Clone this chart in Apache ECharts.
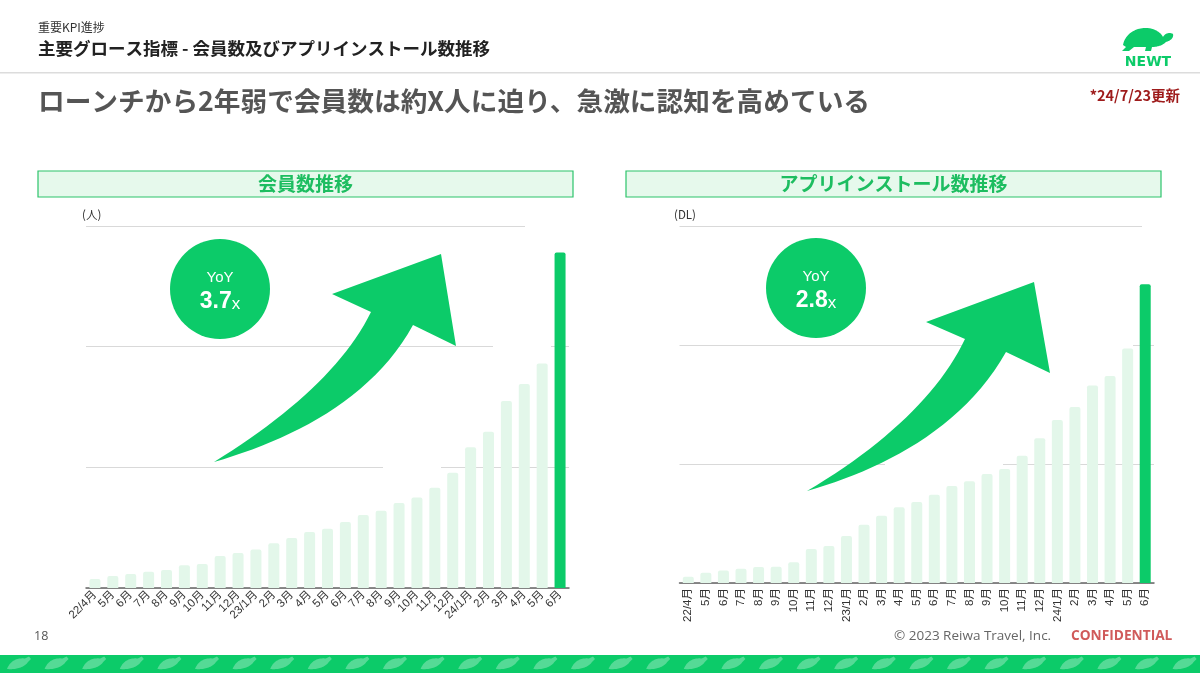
<!DOCTYPE html>
<html>
<head>
<meta charset="utf-8">
<script src="https://cdn.jsdelivr.net/npm/echarts@6/dist/echarts.min.js"></script>
<style>
html,body{margin:0;padding:0;background:#fff;}
#main{width:1200px;height:673px;}
</style>
</head>
<body>
<div id="main"></div>
<script>
const categories = ['22/4月','5月','6月','7月','8月','9月','10月','11月','12月','23/1月','2月','3月','4月','5月','6月','7月','8月','9月','10月','11月','12月','24/1月','2月','3月','4月','5月','6月'];
// relative values (one gridline step = 100)
const memberValues = [7.5,10,11.6,13.5,14.9,18.8,19.9,26.5,29,32,37,41.4,46.4,49,54.7,60.5,64,70.4,75,83,95.5,116.6,129.5,155,169,186,278];
const installValues = [5.3,8.7,10.4,12,13.4,13.7,17.4,28.6,31.1,39.5,49,56.6,63.6,68,74.2,81.5,85.5,91.6,95.8,107,121.6,137,148,166,174,197,251];
const leftTitle = '会員数推移';
const rightTitle = 'アプリインストール数推移';
const leftUnit = '(人)';
const rightUnit = '(DL)';
const leftYoY = '3.7';
const rightYoY = '2.8';

const GREEN = '#0CCB69';
const LIGHT = '#E3F7EA';
const FONT = '"Noto Sans CJK JP","Noto Sans",sans-serif';
const LABEL_FONT = '"Liberation Sans","Noto Sans CJK JP",sans-serif';

const chart = echarts.init(document.getElementById('main'), null, {renderer:'canvas'});

function barColor(p){ return p.dataIndex === categories.length - 1 ? GREEN : LIGHT; }

// convert simple absolute path (M/L/C/Z) to polygon points
function pathToPoints(d){
  const tok = d.replace(/([MLCZ])/g,' $1 ').replace(/,/g,' ').trim().split(/\s+/);
  const pts = []; let i = 0, cur = [0,0], cmd = '';
  while (i < tok.length) {
    const t = tok[i];
    if (/[MLCZ]/.test(t)) { cmd = t; i++; if (cmd === 'Z') continue; }
    if (cmd === 'M' || cmd === 'L') {
      cur = [+tok[i], +tok[i+1]]; pts.push(cur.slice()); i += 2;
    } else if (cmd === 'C') {
      const p1=[+tok[i],+tok[i+1]], p2=[+tok[i+2],+tok[i+3]], p3=[+tok[i+4],+tok[i+5]];
      for (let k = 1; k <= 24; k++) {
        const s = k/24, u = 1-s;
        pts.push([u*u*u*cur[0]+3*u*u*s*p1[0]+3*u*s*s*p2[0]+s*s*s*p3[0],
                  u*u*u*cur[1]+3*u*u*s*p1[1]+3*u*s*s*p2[1]+s*s*s*p3[1]]);
      }
      cur = p3; i += 6;
    } else { i++; }
  }
  return pts;
}
function poly(d, fill, z){ return {type:'polygon', z:z, shape:{points:pathToPoints(d)}, style:{fill:fill}}; }

const graphics = [];
// header
graphics.push({type:'text', left:38, top:21, z:20, style:{text:'重要KPI進捗', font:'12px '+FONT, fill:'#333'}});
graphics.push({type:'text', left:38, top:40, z:20, style:{text:'主要グロース指標 - 会員数及びアプリインストール数推移', font:'bold 17.5px '+FONT, fill:'#222'}});
graphics.push({type:'rect', shape:{x:0,y:72,width:1200,height:1.5}, z:20, style:{fill:'#dcdcdc'}});
graphics.push({type:'text', left:38, top:88, z:20, style:{text:'ローンチから2年弱で会員数は約X人に迫り、急激に認知を高めている', font:'bold 26.7px '+FONT, fill:'#555'}});
graphics.push({type:'text', right:20, top:88, z:20, style:{text:'*24/7/23更新', font:'bold 14.5px '+FONT, fill:'#9E1B1B'}});
// NEWT logo
graphics.push(poly('M1123,45 C1125,34 1136,27 1148,28 C1156,29 1161,33 1163,37 C1165,33 1170,32 1173,34 C1174,38 1170,41 1166,42 C1163,45 1158,47 1152,47 L1151,51 L1145,51 L1146,47 L1134,47 L1129,51 L1122,51 L1126,47 Z', GREEN, 20));
graphics.push({type:'text', z:20, x:1148, y:55, style:{text:'NEWT', font:'bold 14px "DejaVu Sans",sans-serif', fill:GREEN, textAlign:'center', textVerticalAlign:'top'}});

// title boxes
[[38, leftTitle],[626, rightTitle]].forEach(function(b){
  graphics.push({type:'rect', z:20, shape:{x:b[0],y:171,width:535,height:26}, style:{fill:'#E6F9EC', stroke:'#2CC36B', lineWidth:1.2}});
  graphics.push({type:'text', z:21, x:b[0]+267.5, y:184, style:{text:b[1], font:'bold 19px '+FONT, fill:'#1DBD60', textAlign:'center', textVerticalAlign:'middle'}});
});
// unit labels
graphics.push({type:'text', z:20, left:82, top:209, style:{text:leftUnit, font:'11.5px '+FONT, fill:'#333'}});
graphics.push({type:'text', z:20, left:674, top:209, style:{text:rightUnit, font:'11.5px '+FONT, fill:'#333'}});

// white covers (from overlay image background in source)
[[525,222,60,8],[493,342,58,8],[383,463,58,8],[1142,222,20,8],[965,341,168,8],[885,460,118,8]].forEach(function(r){
  graphics.push({type:'rect', z:1, shape:{x:r[0],y:r[1],width:r[2],height:r[3]}, style:{fill:'#fff'}});
});

// arrows
graphics.push(poly('M214,462 C290,440 372,400 413,325 L456,346 L441,254 L332,294 L371,312 C345,365 290,415 214,462 Z', GREEN, 10));
graphics.push(poly('M807,491 C880,470 962,430 1006,352 L1050,373 L1034,282 L926,322 L965,339 C940,392 885,445 807,491 Z', GREEN, 10));

// YoY circles
[[220,289,leftYoY],[816,288,rightYoY]].forEach(function(c){
  graphics.push({type:'circle', z:10, shape:{cx:c[0],cy:c[1],r:50}, style:{fill:GREEN}});
  graphics.push({type:'text', z:11, x:c[0], y:c[1]-11, style:{text:'YoY', font:'15px "Liberation Sans",Arial,sans-serif', fill:'#fff', textAlign:'center', textVerticalAlign:'middle'}});
  graphics.push({type:'text', z:11, x:c[0], y:c[1]+13, style:{text:'{a|'+c[2]+'}{b|x}', textAlign:'center', textVerticalAlign:'middle', rich:{a:{font:'bold 23px "Liberation Sans",Arial,sans-serif', fill:'#fff'}, b:{font:'17px "Liberation Sans",Arial,sans-serif', fill:'#fff', padding:[5,0,0,0]}}}});
});

// footer
graphics.push({type:'text', z:20, left:34, top:630, style:{text:'18', font:'12.5px "Open Sans",sans-serif', fill:'#555'}});
graphics.push({type:'text', z:20, left:894, top:629, style:{text:'© 2023 Reiwa Travel, Inc.', font:'13.5px "Open Sans",sans-serif', fill:'#666'}});
graphics.push({type:'text', z:20, left:1071, top:629, style:{text:'CONFIDENTIAL', font:'bold 13.7px "Open Sans",sans-serif', fill:'#D05A5A'}});
graphics.push({type:'rect', z:20, shape:{x:0,y:655,width:1200,height:18}, style:{fill:GREEN}});
for (let i = 0; i < 33; i++) {
  const x0 = 7 + i * 37.6;
  graphics.push(poly('M'+x0+',669 C'+(x0+3)+',661 '+(x0+10)+',657.5 '+(x0+18)+',658.5 L'+(x0+22)+',656.5 L'+(x0+24)+',659 L'+(x0+21)+',662 C'+(x0+18)+',667 '+(x0+9)+',670 '+x0+',669 Z', 'rgba(255,255,255,0.3)', 21));
}

const option = {
  animation:false,
  backgroundColor:'#fff',
  grid:[
    {left:86, top:226, width:483, height:362},
    {left:679.5, top:226, width:474.5, height:357}
  ],
  xAxis:[
    {type:'category', gridIndex:0, data:categories, axisTick:{show:false},
     axisLine:{lineStyle:{color:'#666', width:1.5}},
     axisLabel:{rotate:45, interval:0, fontSize:11.5, color:'#333', margin:5, fontFamily:LABEL_FONT}},
    {type:'category', gridIndex:1, data:categories, axisTick:{show:false},
     axisLine:{lineStyle:{color:'#666', width:1.5}},
     axisLabel:{rotate:90, interval:0, fontSize:11.5, color:'#333', margin:5, fontFamily:LABEL_FONT}}
  ],
  yAxis:[
    {type:'value', gridIndex:0, min:0, max:300, interval:100, axisLabel:{show:false}, axisLine:{show:false}, axisTick:{show:false},
     splitLine:{lineStyle:{color:'#d9d9d9', width:1.2}}},
    {type:'value', gridIndex:1, min:0, max:300, interval:100, axisLabel:{show:false}, axisLine:{show:false}, axisTick:{show:false},
     splitLine:{lineStyle:{color:'#d9d9d9', width:1.2}}}
  ],
  series:[
    {type:'bar', xAxisIndex:0, yAxisIndex:0, data:memberValues, barWidth:11, z:2,
     itemStyle:{color:barColor, borderRadius:[2,2,0,0]}},
    {type:'bar', xAxisIndex:1, yAxisIndex:1, data:installValues, barWidth:11, z:2,
     itemStyle:{color:barColor, borderRadius:[2,2,0,0]}}
  ],
  graphic:{elements:graphics}
};
chart.setOption(option);
</script>
</body>
</html>
